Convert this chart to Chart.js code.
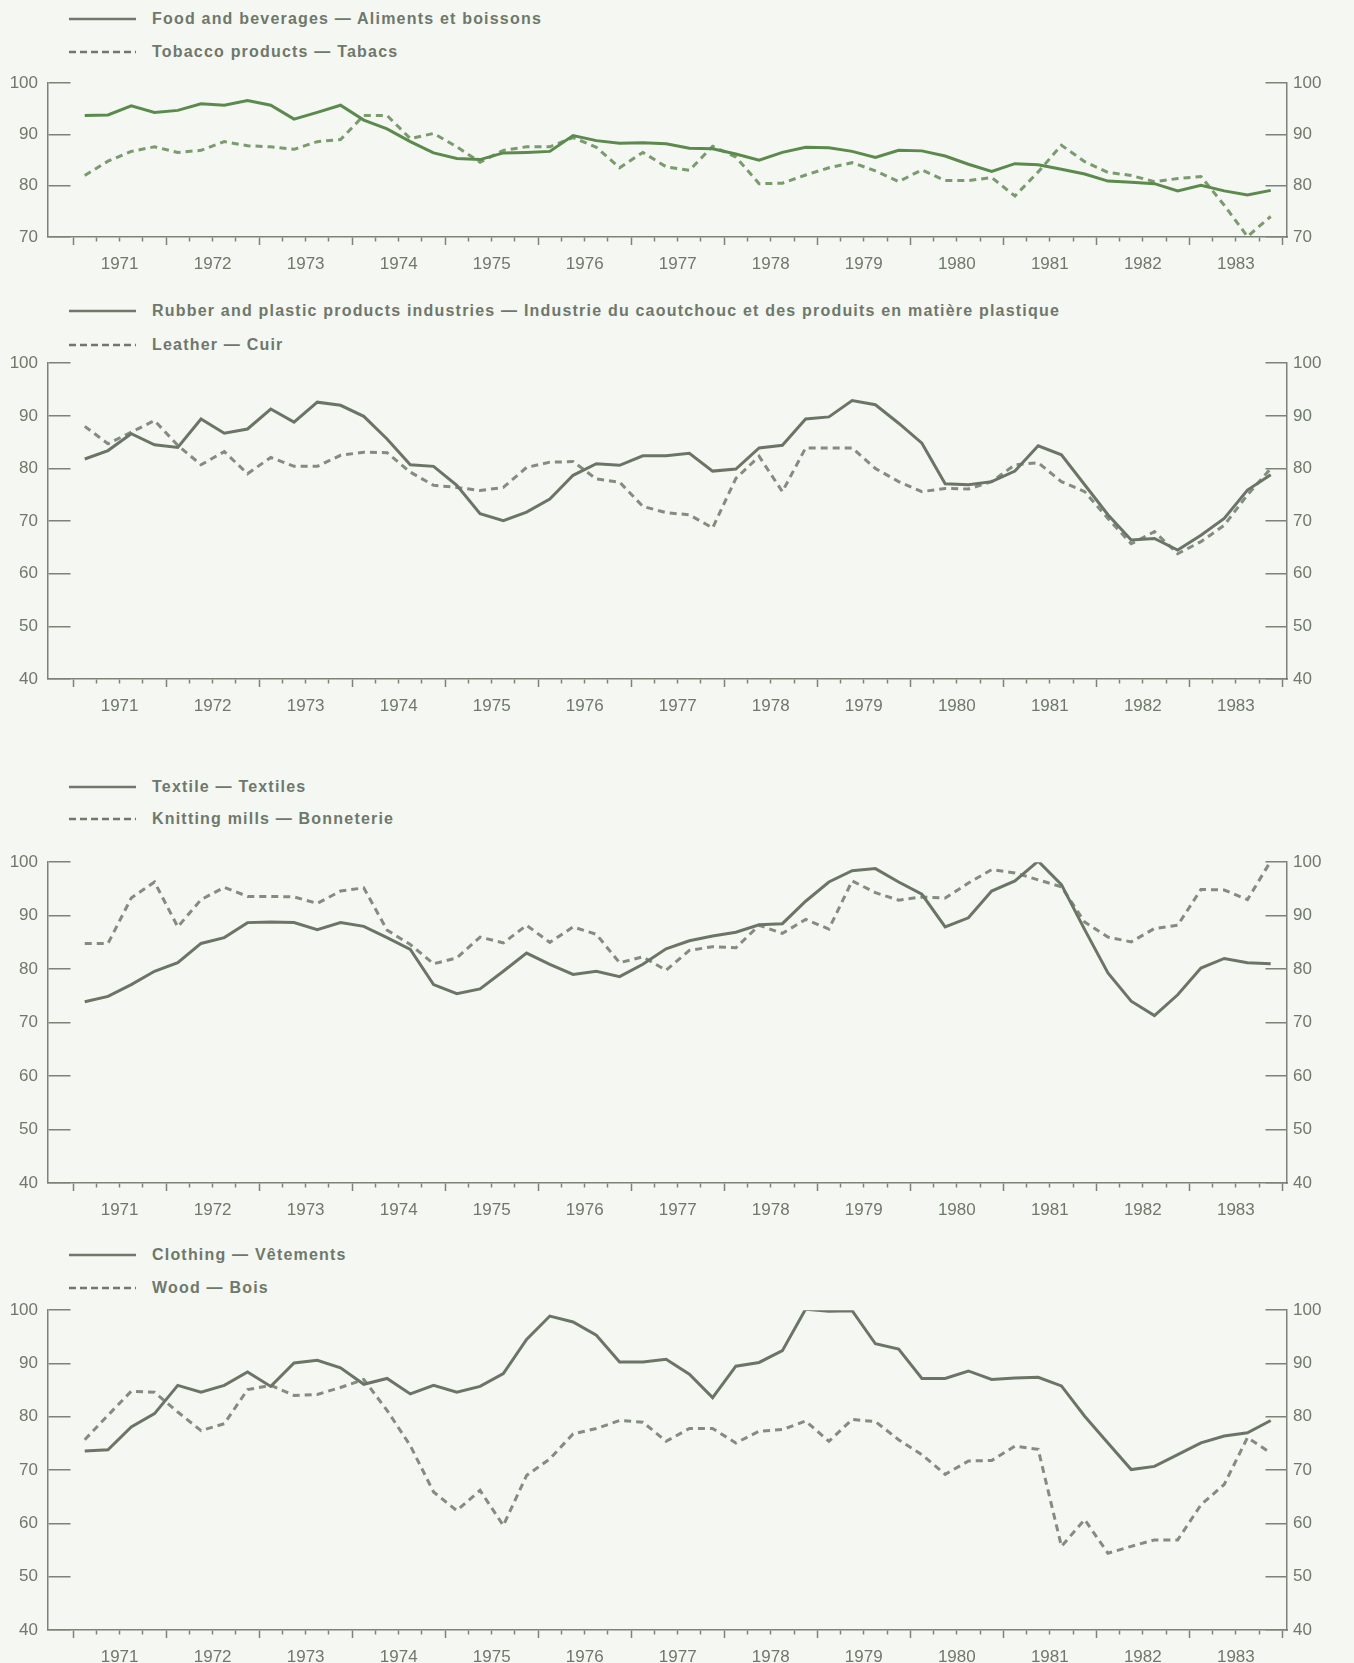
<!DOCTYPE html>
<html>
<head>
<meta charset="utf-8">
<title>Indices par industrie, 1971-1983</title>
<script src="https://cdn.jsdelivr.net/npm/chart.js@4.4.1/dist/chart.umd.min.js"></script>
<style>
  html, body { margin: 0; padding: 0; background: #f4f7f2; overflow: hidden; }
  body { width: 1354px; height: 1663px; position: relative; font-family: 'Liberation Sans', Arial, sans-serif; }
  canvas { position: absolute; left: 0; }
  .row { position: absolute; left: 69px; height: 20px; display: flex; align-items: center; white-space: nowrap;
         color: #6f786b; font-weight: bold; font-size: 16px; letter-spacing: 1.2px; }
  .row svg { margin-right: 16px; flex: none; }
</style>
</head>
<body>
<script>
// Données trimestrielles, 1971 T1 -> 1983 T4
const years = [1971, 1972, 1973, 1974, 1975, 1976, 1977, 1978, 1979, 1980, 1981, 1982, 1983];

const food = [93.7, 93.8, 95.6, 94.3, 94.7, 96.0, 95.7, 96.6, 95.7, 93.0, 94.3, 95.7,
              92.8, 91.1, 88.6, 86.4, 85.3, 85.1, 86.4, 86.5, 86.7, 89.8, 88.8, 88.3,
              88.4, 88.2, 87.3, 87.2, 86.2, 85.0, 86.5, 87.5, 87.4, 86.7, 85.5, 86.9,
              86.8, 85.8, 84.2, 82.8, 84.3, 84.1, 83.2, 82.3, 80.9, 80.7, 80.4, 79.0,
              80.1, 79.0, 78.2, 79.1];
const tobacco = [82.0, 84.8, 86.7, 87.6, 86.5, 86.9, 88.6, 87.8, 87.6, 87.1, 88.6, 89.0,
                 93.7, 93.7, 89.2, 90.2, 87.6, 84.6, 86.9, 87.6, 87.6, 89.4, 87.5, 83.5,
                 86.5, 83.7, 83.0, 87.7, 85.6, 80.4, 80.5, 82.1, 83.5, 84.5, 82.9, 80.8,
                 83.1, 81.0, 81.0, 81.6, 78.0, 82.7, 87.9, 84.7, 82.6, 82.0, 80.8, 81.4,
                 81.8, 76.2, 70.1, 74.0];

const rubber = [81.8, 83.4, 86.6, 84.5, 84.0, 89.4, 86.7, 87.5, 91.3, 88.8, 92.6, 92.0,
                89.9, 85.6, 80.7, 80.4, 76.8, 71.4, 70.1, 71.7, 74.2, 78.7, 80.9, 80.6,
                82.4, 82.4, 82.9, 79.5, 79.9, 83.9, 84.4, 89.4, 89.8, 92.9, 92.1, 88.6,
                84.8, 77.1, 76.9, 77.5, 79.5, 84.3, 82.6, 76.9, 71.2, 66.4, 66.7, 64.5,
                67.3, 70.5, 75.9, 78.8];
const leather = [88.0, 84.7, 86.9, 89.1, 84.4, 80.7, 83.2, 79.0, 82.1, 80.4, 80.4, 82.5,
                 83.1, 83.0, 79.3, 76.8, 76.4, 75.8, 76.4, 80.2, 81.2, 81.3, 78.0, 77.4,
                 72.8, 71.6, 71.2, 68.7, 78.1, 82.3, 75.6, 83.9, 83.9, 83.9, 80.0, 77.5,
                 75.6, 76.2, 76.1, 77.5, 80.7, 81.1, 77.5, 75.6, 70.5, 65.7, 68.0, 63.8,
                 66.1, 69.2, 75.0, 80.0];

const textile = [73.9, 74.9, 77.1, 79.6, 81.2, 84.8, 85.9, 88.7, 88.8, 88.7, 87.4, 88.7,
                 88.0, 85.9, 83.7, 77.1, 75.4, 76.3, 79.6, 83.0, 80.9, 79.0, 79.6, 78.6,
                 80.9, 83.8, 85.3, 86.2, 86.9, 88.3, 88.5, 92.7, 96.3, 98.4, 98.8, 96.3,
                 94.0, 87.9, 89.6, 94.6, 96.5, 100.2, 95.8, 87.4, 79.3, 74.0, 71.3, 75.2,
                 80.2, 82.0, 81.2, 81.0];
const knitting = [84.8, 84.8, 93.3, 96.3, 87.9, 93.0, 95.3, 93.6, 93.6, 93.5, 92.3, 94.6,
                  95.2, 87.3, 84.6, 81.0, 82.1, 86.0, 84.9, 88.2, 85.0, 87.9, 86.5, 81.2,
                  82.3, 79.8, 83.5, 84.2, 84.0, 88.2, 86.7, 89.3, 87.5, 96.5, 94.3, 92.9,
                  93.5, 93.3, 96.1, 98.6, 98.0, 96.7, 95.4, 88.8, 86.0, 85.1, 87.6, 88.2,
                  94.9, 94.8, 93.0, 100.2];

const clothing = [73.6, 73.8, 78.1, 80.6, 85.9, 84.6, 85.9, 88.4, 85.7, 90.1, 90.6, 89.2,
                  86.1, 87.2, 84.3, 85.9, 84.6, 85.7, 88.1, 94.5, 98.9, 97.8, 95.3, 90.3,
                  90.3, 90.8, 88.0, 83.6, 89.5, 90.2, 92.4, 100.2, 99.8, 99.9, 93.7, 92.7,
                  87.2, 87.2, 88.6, 87.0, 87.3, 87.4, 85.8, 80.1, 75.1, 70.1, 70.7, 72.9,
                  75.1, 76.4, 77.0, 79.3];
const wood = [75.7, 80.3, 84.8, 84.6, 80.9, 77.4, 78.7, 85.1, 85.9, 84.0, 84.2, 85.5,
              87.0, 81.2, 74.6, 65.9, 62.4, 66.2, 59.6, 69.0, 72.1, 76.8, 77.8, 79.3,
              79.0, 75.4, 77.8, 77.8, 75.1, 77.3, 77.6, 79.2, 75.4, 79.5, 79.1, 75.7,
              72.9, 69.2, 71.7, 71.8, 74.5, 73.9, 55.7, 60.7, 54.4, 55.7, 56.9, 56.9,
              63.5, 67.3, 76.1, 73.2];

const W = 1354;
const AREA_LEFT = 48, AREA_RIGHT = 1287;
const PAD_TOP = 14, X_AXIS_H = 38;
const AXIS = '#7b8477', TEXT = '#6f786b';
const DASH = [7, 5];

const panels = [
  { top: 77, bottom: 237, min: 70, legendY: [19, 52], solid: '#5b8a4c', dashed: '#7b9a6e',
    series: [['Food and beverages — Aliments et boissons', food],
             ['Tobacco products — Tabacs', tobacco]] },
  { top: 357, bottom: 679, min: 40, legendY: [311, 345], solid: '#6b7566', dashed: '#838c7e',
    series: [['Rubber and plastic products industries — Industrie du caoutchouc et des produits en matière plastique', rubber],
             ['Leather — Cuir', leather]] },
  { top: 856, bottom: 1183, min: 40, legendY: [787, 819], solid: '#6b7566', dashed: '#838c7e',
    series: [['Textile — Textiles', textile],
             ['Knitting mills — Bonneterie', knitting]] },
  { top: 1304, bottom: 1630, min: 40, legendY: [1255, 1288], solid: '#6b7566', dashed: '#838c7e',
    series: [['Clothing — Vêtements', clothing],
             ['Wood — Bois', wood]] }
];

Chart.defaults.font.family = "'Liberation Sans', Arial, sans-serif";
Chart.defaults.color = TEXT;

const toPoints = values => values.map((v, i) => ({ x: years[0] + (i + 0.5) / 4, y: v }));

function legendRow(text, y, color, dashed) {
  const row = document.createElement('div');
  row.className = 'row';
  row.style.top = (y - 10) + 'px';
  const dash = dashed ? ' stroke-dasharray="7 4"' : '';
  row.innerHTML = `<svg width="67" height="6"><line x1="0" y1="3" x2="67" y2="3" stroke="${color}" stroke-width="2.5"${dash}/></svg><span>${text}</span>`;
  document.body.appendChild(row);
}

panels.forEach(p => {
  legendRow(p.series[0][0], p.legendY[0], TEXT, false);
  legendRow(p.series[1][0], p.legendY[1], TEXT, true);

  const canvas = document.createElement('canvas');
  const h = p.bottom - p.top + PAD_TOP + X_AXIS_H;
  canvas.width = W;
  canvas.height = h;
  canvas.style.top = (p.top - PAD_TOP) + 'px';
  document.body.appendChild(canvas);

  const yScale = (position, pad) => ({
    type: 'linear',
    position: position,
    min: p.min,
    max: 100,
    ticks: { stepSize: 10, padding: pad, font: { size: 17 }, color: TEXT },
    afterFit: s => { s.width = position === 'left' ? AREA_LEFT : W - AREA_RIGHT; }
  });

  const left = yScale('left', 10);
  // traits de graduation vers l'intérieur, aux deux extrémités de chaque ligne
  left.grid = { drawTicks: false, color: AXIS, lineWidth: 1.5 };
  left.border = {
    display: true, color: AXIS, width: 1.5,
    dash: ctx => {
      if (ctx.type !== 'tick') return [];
      const a = ctx.chart.chartArea;
      const w = a.right - a.left;
      return [22, w - 44, 22, 0];
    }
  };
  const right = yScale('right', 6);
  right.grid = { display: false, drawTicks: false };
  right.border = { display: true, color: AXIS, width: 1.5 };

  new Chart(canvas, {
    type: 'line',
    data: {
      datasets: [
        { label: p.series[0][0], data: toPoints(p.series[0][1]), borderColor: p.solid,
          borderWidth: 3, pointRadius: 0, tension: 0, yAxisID: 'y' },
        { label: p.series[1][0], data: toPoints(p.series[1][1]), borderColor: p.dashed,
          borderWidth: 3, borderDash: DASH, pointRadius: 0, tension: 0, yAxisID: 'y' }
      ]
    },
    options: {
      responsive: false,
      animation: false,
      layout: { padding: { top: PAD_TOP, left: 0, right: 0, bottom: 0 } },
      plugins: { legend: { display: false }, tooltip: { enabled: false } },
      scales: {
        x: {
          type: 'linear',
          min: 1970.73,
          max: 1984.05,
          afterBuildTicks: s => {
            const t = [];
            for (let q = 0; q <= years.length * 4; q++) t.push({ value: years[0] + q / 4 });
            s.ticks = t;
          },
          afterFit: s => { s.height = X_AXIS_H; },
          ticks: {
            autoSkip: false, maxRotation: 0, minRotation: 0, padding: 9,
            font: { size: 17 }, color: TEXT,
            callback: v => (v % 1 === 0.5 ? String(Math.floor(v)) : '')
          },
          grid: {
            drawOnChartArea: false, tickLength: 8, tickColor: AXIS, tickWidth: 1.5,
            tickBorderDash: ctx => (ctx.tick && ctx.tick.value % 1 === 0 ? [] : [4, 40])
          },
          border: { display: true, color: AXIS, width: 1.5 }
        },
        y: left,
        y2: right
      }
    }
  });
});
</script>
</body>
</html>
